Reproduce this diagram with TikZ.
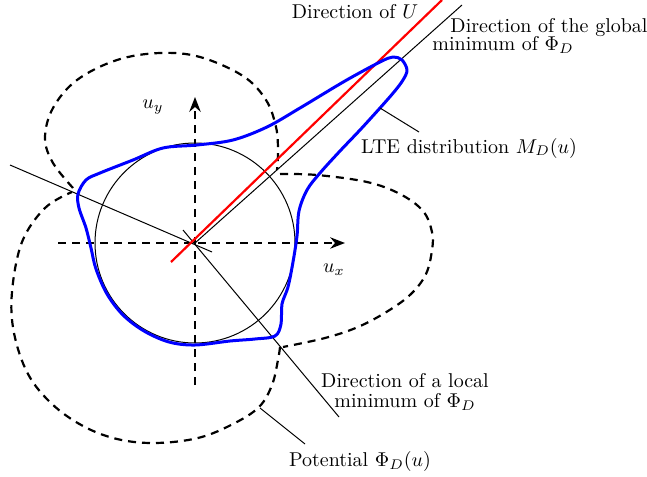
\documentclass[tikz,border=0pt]{standalone}
\usepackage{amsmath,amssymb}
\usepackage{tikz}
\usetikzlibrary{positioning,arrows.meta}
\definecolor{udirred}{HTML}{FF0000}

\begin{document}
\begin{tikzpicture}[x=0.5pt,y=-0.5pt,
 axis/.style={line width=1.1pt,dash pattern=on 4pt off 3pt,-{Stealth[length=2.6mm,width=2mm]}},
 pot/.style={line width=1.1pt,dash pattern=on 4pt off 3pt},
 lte/.style={line width=1.5pt,blue,line join=round},
 dirline/.style={line width=0.5pt},
 lab/.style={font=\normalsize,align=center,inner sep=1pt}]
\useasboundingbox (0,0) rectangle (647,476);
% axes and circle
\coordinate (O) at (195,243);
\draw[axis] (58,243) -- (345,243);
\draw[axis] (195,385) -- (195,97);
\node[lab] (uy) at (153,107) {$u_y$};
\node[lab] (ux) at (334,270) {$u_x$};
\draw[dirline] (O) circle[radius=100];
% potential, three lobes
\draw[pot] plot[smooth,tension=0.6] coordinates {(73,188) (53,163) (45,138) (53,108) (77,80)
  (117,60) (160,53) (200,57) (243,76) (266,100) (276,127) (278,150) (277,170)};
\draw[pot] plot[smooth,tension=0.6] coordinates {(280,174) (317,175) (367,182) (400,194)
  (423,211) (432,232) (432,250) (426,274) (411,294) (388,311) (358,327) (325,338) (283,347)};
\draw[pot] plot[smooth,tension=0.6] coordinates {(280,347) (278,360) (272,385) (259,407)
  (233,424) (198,438) (155,443) (117,439) (83,426) (52,404) (28,374) (14,333) (12,292)
  (22,242) (45,208) (72,192)};
% direction lines
\draw[dirline] (10,165) -- (212,252);
\draw[dirline] (183,230) -- (339,417);
\draw[dirline] (O) -- (462,5);
\draw[udirred,line width=1.1pt] (171,262) -- (442,0);
% LTE distribution
\draw[lte] plot[smooth cycle,tension=0.55] coordinates {(197,145) (233,140) (267,127) (300,108)
  (345,81) (380,62) (393,57) (402,60) (407,70) (403,80) (394,92) (380,108) (360,130) (340,151)
  (320,173) (307,190) (299,211) (297,236) (293,262) (288,287) (282,304) (281,324) (275,336)
  (255,339) (230,341) (195,345) (169,342) (144,331) (123,315) (107,294) (96,269) (91,248)
  (86,228) (79,208) (78,194) (86,180) (100,173) (133,160) (163,148)};
% labels and leaders
\node[lab] (udir) at (355,12) {Direction of $U$};
\node[lab] (glob1) at (549,28) {Direction of the global};
\node[lab] (glob2) at (503,45) {minimum of $\Phi_D$};
\node[lab] (ltelab) at (469,148) {LTE distribution $M_D(u)$};
\coordinate (lteP) at (380,108);
\coordinate (lteE) at (419,132);
\draw[dirline] (lteP) -- (lteE);
\node[lab] (loc) at (405,392) {Direction of a local\\[-2pt]minimum of $\Phi_D$};
\node[lab] (potlab) at (360,461) {Potential $\Phi_D(u)$};
\coordinate (potP) at (260,408);
\coordinate (potE) at (305,444);
\draw[dirline] (potP) -- (potE);
\end{tikzpicture}
\end{document}
